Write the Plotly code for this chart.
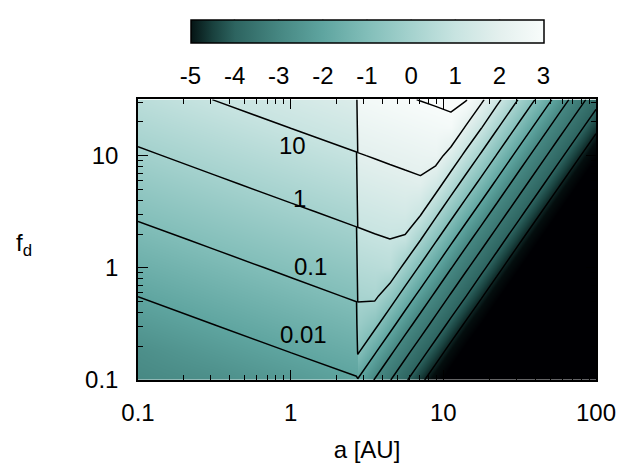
import plotly.graph_objects as go

# a [AU] grid: inner zone (inside the snow line) and outer zone
a_inner = [0.1, 0.316, 1.0, 2.70]
a_outer = [2.75, 3.55, 4.47, 5.62, 7.08, 8.91, 11.2, 14.1, 17.8, 22.4, 31.6, 56.2, 100.0]

# f_d grid (quarter decades)
f_d = [0.1, 0.178, 0.316, 0.562, 1.0, 1.78, 3.16, 5.62, 10.0, 17.8, 31.6]

# log10 values, one row per f_d
z_inner = [
    [-2.95, -2.75, -2.37, -2.05],
    [-2.75, -2.37, -1.99, -1.67],
    [-2.37, -1.99, -1.62, -1.30],
    [-1.99, -1.62, -1.25, -0.92],
    [-1.62, -1.25, -0.87, -0.55],
    [-1.25, -0.87, -0.50, -0.17],
    [-0.87, -0.50, -0.12, 0.20],
    [-0.50, -0.12, 0.26, 0.58],
    [-0.12, 0.26, 0.63, 0.95],
    [0.26, 0.63, 1.01, 1.33],
    [0.63, 1.01, 1.38, 1.70],
]
z_outer = [
    [-2.05, -3.05, -3.95, -4.85, -5.75, -6.65, -7.55, -8.45, -9.35, -10.25, -11.60, -13.85, -16.10],
    [-0.90, -1.90, -2.80, -3.70, -4.60, -5.50, -6.40, -7.30, -8.20, -9.10, -10.45, -12.70, -14.95],
    [-0.29, -0.75, -1.65, -2.55, -3.45, -4.35, -5.25, -6.15, -7.05, -7.95, -9.30, -11.55, -13.80],
    [0.08, 0.17, -0.50, -1.40, -2.30, -3.20, -4.10, -4.98, -5.90, -6.80, -8.15, -10.40, -12.65],
    [0.46, 0.54, 0.62, -0.25, -1.15, -2.05, -2.95, -3.85, -4.75, -5.65, -7.00, -9.25, -11.50],
    [0.83, 0.92, 0.99, 0.90, 0.02, -0.90, -1.80, -2.70, -3.60, -4.50, -5.85, -8.10, -10.35],
    [1.21, 1.29, 1.37, 1.44, 1.15, 0.25, -0.65, -1.55, -2.45, -3.35, -4.70, -6.95, -9.20],
    [1.58, 1.67, 1.74, 1.82, 1.89, 1.40, 0.50, -0.40, -1.30, -2.20, -3.55, -5.80, -8.05],
    [1.96, 2.04, 2.12, 2.19, 2.27, 2.34, 1.65, 0.75, -0.15, -1.05, -2.40, -4.65, -6.90],
    [2.33, 2.42, 2.49, 2.57, 2.64, 2.72, 2.79, 1.90, 1.02, 0.10, -1.25, -3.50, -5.75],
    [2.71, 2.79, 2.87, 2.94, 3.02, 3.09, 3.17, 3.05, 2.15, 1.25, -0.10, -2.35, -4.60],
]

# contour labels (value of the level, position in log10 a, log10 f_d)
label_text = ["10", "1", "0.1", "0.01"]
label_x = [0.011, 0.057, 0.128, 0.083]
label_y = [1.094, 0.614, 0.012, -0.59]

cbar_vals = [-5, -4, -3, -2, -1, 0, 1, 2, 3]
x_ticks = [0.1, 1, 10, 100]
y_ticks = [0.1, 1, 10]

FONT = "Liberation Sans, Arial, sans-serif"

# colour bar as printed (-5 .. 3)
TEAL = [
    [0.0, "rgb(5,20,20)"],
    [0.0625, "rgb(25,65,62)"],
    [0.125, "rgb(45,100,96)"],
    [0.25, "rgb(70,135,130)"],
    [0.375, "rgb(95,165,160)"],
    [0.5, "rgb(130,190,185)"],
    [0.625, "rgb(165,210,206)"],
    [0.75, "rgb(200,228,225)"],
    [0.875, "rgb(228,240,238)"],
    [1.0, "rgb(248,252,251)"],
]
# same colours on the map, the dark end eased out to -7 and going to black
TEAL_MAP = [
    [0.0, "rgb(0,0,3)"],
    [0.07, "rgb(4,14,14)"],
    [0.14, "rgb(25,65,62)"],
    [0.2, "rgb(45,100,96)"],
    [0.4, "rgb(70,135,130)"],
    [0.5, "rgb(95,165,160)"],
    [0.6, "rgb(130,190,185)"],
    [0.7, "rgb(165,210,206)"],
    [0.8, "rgb(200,228,225)"],
    [0.9, "rgb(228,240,238)"],
    [1.0, "rgb(248,252,251)"],
]

# page has an 8px body margin; plot area sits at 138..598 x 93..380 of the window
PAD = 8
W, H = 628 - PAD, 473 - PAD
ML, MT = 138 - PAD, 93 - PAD
PW, PH = 460, 287


def minor_vals(lo, hi):
    out = []
    d = lo
    while d < hi:
        out += [k * d for k in range(2, 10)]
        d *= 10
    return out


def chart_fd_map():
    z = [zi + zo for zi, zo in zip(z_inner, z_outer)]
    a_all = a_inner + a_outer

    cb_len = 355 / PW
    cb_x0 = 0.5 - cb_len / 2
    cb_top = (380 - 12) / PH
    cb_bot = (380 - 35) / PH

    fig = go.Figure()
    fig.add_trace(go.Contour(
        x=a_all, y=f_d, z=z,
        colorscale=TEAL_MAP, zauto=False, zmin=-7, zmax=3, showscale=False,
        contours=dict(start=-6, end=3, size=1, coloring="heatmap", showlabels=False),
        line=dict(color="black", width=1.5, smoothing=0),
        hoverinfo="skip",
    ))
    # colour bar only
    fig.add_trace(go.Scatter(
        x=[None], y=[None], mode="markers", showlegend=False, hoverinfo="skip",
        marker=dict(
            color=[0], colorscale=TEAL, cmin=-5, cmax=3, showscale=True,
            colorbar=dict(
                orientation="h", x=0.5, xanchor="center", y=cb_top, yanchor="top",
                len=cb_len, lenmode="fraction", thickness=23, xpad=0, ypad=0,
                outlinecolor="black", outlinewidth=1.5,
                tickvals=cbar_vals, ticktext=[str(v) for v in cbar_vals],
                ticks="outside", ticklen=12, tickcolor="rgba(0,0,0,0)",
                tickfont=dict(family=FONT, size=24, color="black"),
            ),
        ),
    ))

    # little tick marks inside the colour bar, top and bottom edges
    for v in cbar_vals[1:-1]:
        xp = cb_x0 + (v + 5) / 8 * cb_len
        fig.add_shape(type="line", xref="paper", yref="paper", x0=xp, x1=xp,
                      y0=cb_bot, y1=cb_bot + 6 / PH, line=dict(color="black", width=1.5))
        fig.add_shape(type="line", xref="paper", yref="paper", x0=xp, x1=xp,
                      y0=cb_top, y1=cb_top - 6 / PH, line=dict(color="black", width=1.5))

    for t, lx, ly in zip(label_text, label_x, label_y):
        fig.add_annotation(x=lx, y=ly, xref="x", yref="y", text=t, showarrow=False,
                           font=dict(family=FONT, size=24, color="black"))

    fig.add_annotation(x=(13 - 138) / PW, y=(380 - 242) / PH, xref="paper", yref="paper",
                       xanchor="left", yanchor="middle", text="f<sub>d</sub>",
                       showarrow=False, font=dict(family=FONT, size=24, color="black"))

    axis_common = dict(
        type="log", showgrid=False, zeroline=False,
        showline=True, linecolor="black", linewidth=1.5, mirror="allticks",
        ticks="inside", ticklen=10, tickwidth=1.2, tickcolor="black",
        tickfont=dict(family=FONT, size=24, color="black"),
    )
    fig.update_xaxes(**axis_common, range=[-1, 2],
                     tickvals=x_ticks, ticktext=[f"{v:g}" for v in x_ticks],
                     minor=dict(tickvals=minor_vals(0.1, 100), ticks="inside", ticklen=5,
                                tickcolor="black", showgrid=False),
                     ticklabelstandoff=10,
                     title=dict(text="a [AU]", font=dict(family=FONT, size=24, color="black"),
                                standoff=17))
    fig.update_yaxes(**axis_common, range=[-1, 1.505],
                     tickvals=y_ticks, ticktext=[f"{v:g}" for v in y_ticks],
                     minor=dict(tickvals=minor_vals(0.1, 100), ticks="inside", ticklen=5,
                                tickcolor="black", showgrid=False),
                     ticklabelstandoff=13)

    fig.update_layout(
        width=W, height=H,
        margin=dict(l=ML, r=W - ML - PW, t=MT, b=H - MT - PH),
        paper_bgcolor="white", plot_bgcolor="white",
        font=dict(family=FONT, size=24, color="black"),
        showlegend=False,
    )
    return fig


fig = chart_fd_map()
fig.write_html("out.html")
